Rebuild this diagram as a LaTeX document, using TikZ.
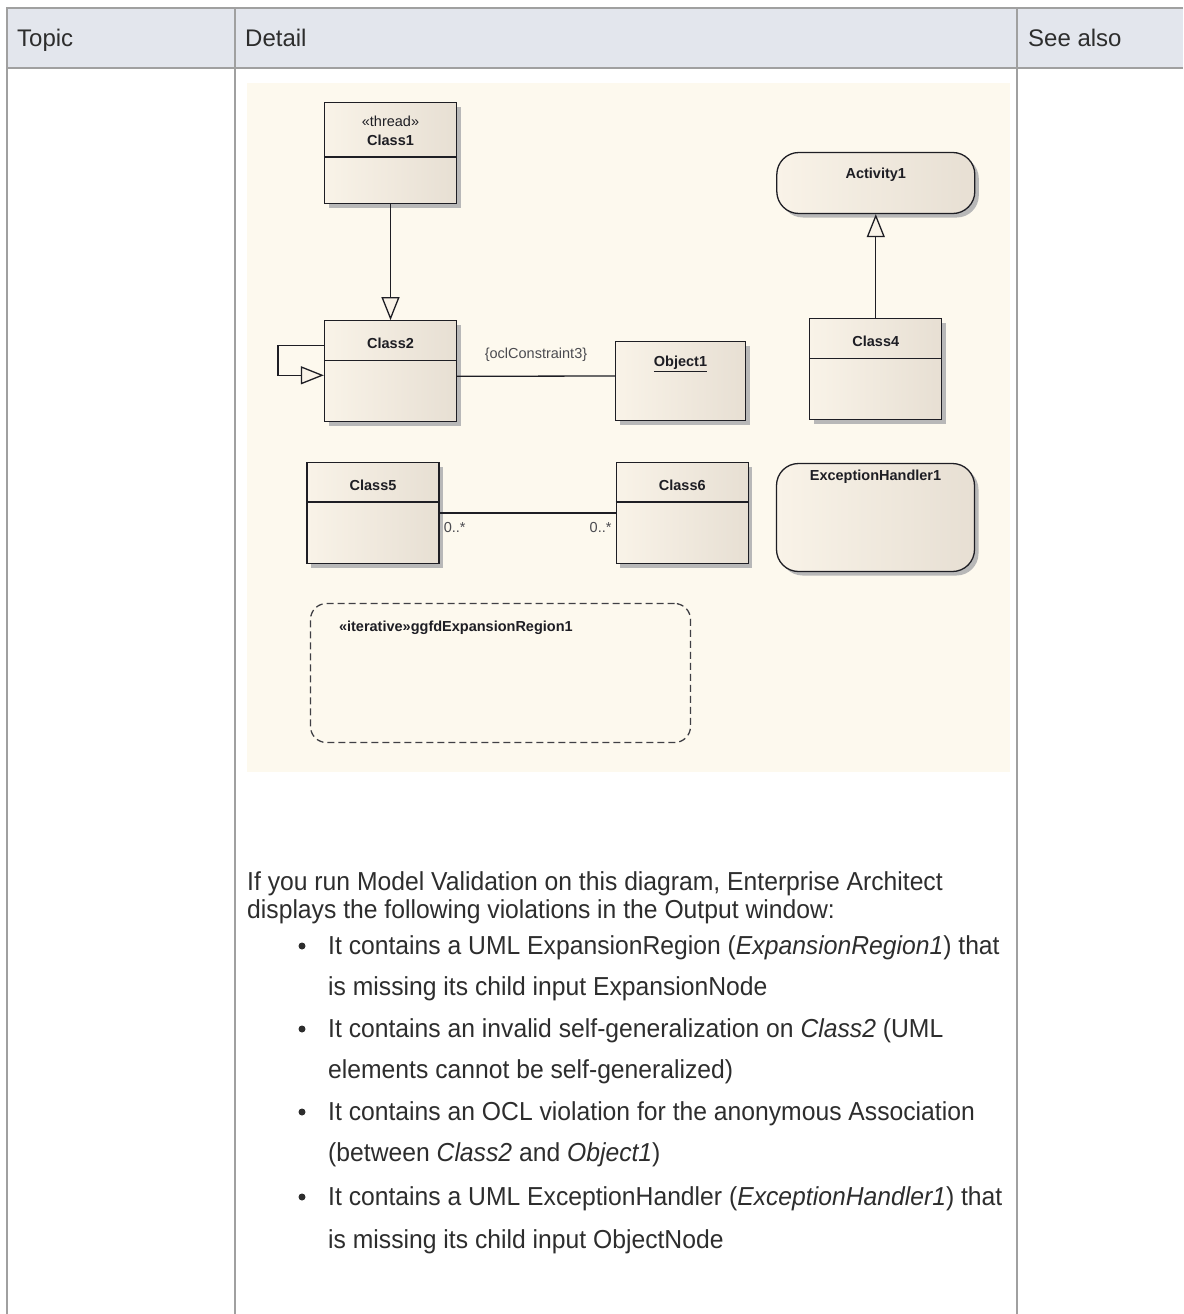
\documentclass[tikz,border=0pt]{standalone}
\usepackage{fontspec}
\setmainfont{Liberation Sans}
\newfontfamily\bodyfont[FakeStretch=0.95]{Liberation Sans}
\usetikzlibrary{arrows.meta,positioning,shadows}
\definecolor{gridgray}{RGB}{160,160,160}
\definecolor{headfill}{RGB}{227,230,237}
\definecolor{canvasfill}{RGB}{253,249,238}
\definecolor{boxleft}{RGB}{249,243,232}
\definecolor{boxright}{RGB}{231,223,211}
\definecolor{inktext}{RGB}{45,45,45}
\definecolor{umlink}{RGB}{30,30,36}
\tikzset{
  gridline/.style={draw=gridgray, line width=2.2pt},
  umlbox/.style={rectangle, draw=umlink, line width=1.3pt, left color=boxleft, right color=boxright, drop shadow={shadow xshift=4pt, shadow yshift=-4pt, fill=black!28, opacity=1}, minimum width=132pt, minimum height=101pt, inner sep=0pt},
  roundbox/.style={umlbox, rounded corners=22pt, minimum width=198pt},
  regionbox/.style={rectangle, draw=umlink!85, line width=1.3pt, dash pattern=on 7pt off 4pt, rounded corners=16pt, minimum width=380pt, minimum height=139pt, inner sep=0pt},
  umlname/.style={font=\bfseries\fontsize{14.5}{17}\selectfont, text=umlink, inner sep=0pt},
  umlnote/.style={font=\fontsize{14.5}{17}\selectfont, text=umlink!80, inner sep=0pt},
  generalize/.style={-{Triangle[length=23pt, width=18pt, fill=boxleft]}, draw=umlink, line width=1.3pt},
  assoc/.style={draw=umlink, line width=1.3pt},
  headtxt/.style={font=\fontsize{24}{28}\selectfont, text=inktext, inner sep=0pt, anchor=base west},
  bodytxt/.style={font=\bodyfont\fontsize{26}{30}\selectfont, text=inktext, inner sep=0pt, anchor=base west},
  bulletdot/.style={circle, fill=inktext, inner sep=0pt, minimum size=7pt}
}
\begin{document}
\begin{tikzpicture}[x=1pt, y=-1pt]
\useasboundingbox (0,0) rectangle (1183,1314);
% table frame
\fill[headfill] (7,8) rectangle (1183,68);
\draw[gridline] (1183,8) -- (7,8) -- (7,1314);
\draw[gridline] (7,68) -- (1183,68);
\draw[gridline] (235,8) -- (235,1314);
\draw[gridline] (1017,8) -- (1017,1314);
\node[headtxt] (topic) at (17,47) {Topic};
\node[headtxt] (detail) at (245,47) {Detail};
\node[headtxt] (seealso) at (1028,47) {See also};
% diagram canvas
\fill[canvasfill] (247,83) rectangle (1010,772);
\node[umlbox] (c1) at (390.5,153) {};
\node[umlbox, below=116pt of c1] (c2) {};
\node[umlbox, minimum height=79pt, minimum width=130pt] (ob1) at (680.5,381) {};
\node[roundbox, minimum height=61pt] (act1) at (875.8,183) {};
\node[umlbox, below=104pt of act1] (c4) {};
\node[umlbox] (c5) at (373,513) {};
\node[umlbox, right=176pt of c5] (c6) {};
\node[roundbox, minimum height=108pt] (eh1) at (875.5,517.5) {};
\node[regionbox] (exp1) at (500.5,673) {};
% compartments
\draw[assoc] ([yshift=-55pt]c1.north west) -- ([yshift=-55pt]c1.north east);
\foreach \b in {c2,c4,c5,c6}
  \draw[assoc] ([yshift=-40pt]\b.north west) -- ([yshift=-40pt]\b.north east);
% names
\node[umlnote, text=umlink] (c1s) at ([yshift=-19.5pt]c1.north) {«thread»};
\node[umlname] (c1n) at ([yshift=-38pt]c1.north) {Class1};
\node[umlname] (c2n) at ([yshift=-23pt]c2.north) {Class2};
\node[umlname] (ob1n) at ([yshift=-23pt]ob1.north) {\underline{Object1}};
\node[umlname] (act1n) at ([yshift=-23pt]act1.north) {Activity1};
\node[umlname] (c4n) at ([yshift=-23pt]c4.north) {Class4};
\node[umlname] (c5n) at ([yshift=-23pt]c5.north) {Class5};
\node[umlname] (c6n) at ([yshift=-23pt]c6.north) {Class6};
\node[umlname] (eh1n) at ([yshift=-14pt]eh1.north) {ExceptionHandler1};
\node[umlname, anchor=west] (exp1n) at ([xshift=29pt, yshift=-25pt]exp1.north west) {«iterative»ggfdExpansionRegion1};
% connectors
\draw[generalize] (c1) -- (c2);
\draw[generalize] (c4) -- (act1);
\draw[generalize] ([yshift=26pt]c2.west) -- ++(-46,0) -- ++(0,30) -- ([yshift=-4pt]c2.west);
\draw[assoc] ([yshift=-5pt]c2.east) -- node[umlnote, yshift=21pt] (ocl) {\{oclConstraint3\}} ([yshift=5pt]ob1.west);
\draw[assoc] (c5) -- (c6);
\node[umlnote, anchor=north west] (m5) at ([xshift=4pt, yshift=-9pt]c5.east) {0..*};
\node[umlnote, anchor=north east] (m6) at ([xshift=-4pt, yshift=-9pt]c6.west) {0..*};
% text below the diagram
\node[bodytxt] (p1) at (247,890) {If you run Model Validation on this diagram, Enterprise Architect};
\node[bodytxt] (p2) at (247,918) {displays the following violations in the Output window:};
\node[bodytxt] (b1a) at (328,954) {It contains a UML ExpansionRegion (\textit{ExpansionRegion1}) that};
\node[bodytxt] (b1b) at (328,995) {is missing its child input ExpansionNode};
\node[bodytxt] (b2a) at (328,1037) {It contains an invalid self-generalization on \textit{Class2} (UML};
\node[bodytxt] (b2b) at (328,1078) {elements cannot be self-generalized)};
\node[bodytxt] (b3a) at (328,1120) {It contains an OCL violation for the anonymous Association};
\node[bodytxt] (b3b) at (328,1161) {(between \textit{Class2} and \textit{Object1})};
\node[bodytxt] (b4a) at (328,1205) {It contains a UML ExceptionHandler (\textit{ExceptionHandler1}) that};
\node[bodytxt] (b4b) at (328,1248) {is missing its child input ObjectNode};
\foreach \yy [count=\k] in {946,1029,1112,1197}
  \node[bulletdot] (dot\k) at (302,\yy) {};
\end{tikzpicture}
\end{document}
